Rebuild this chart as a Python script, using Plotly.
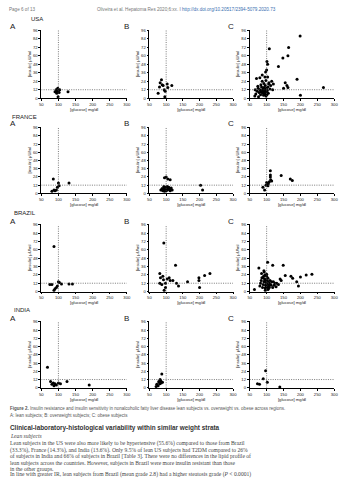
import plotly.graph_objects as go

W, H = 353, 480

# ---------------- data ----------------
countries = ["USA", "FRANCE", "BRAZIL", "INDIA"]
letters = ["A", "B", "C"]
x_ticks = [50, 100, 150, 200, 250, 300]
y_ticks = [0, 12, 24, 36, 48, 60, 72, 84, 96]
glucose_cut = 100
insulin_cut = 12

usa_a_glucose = [90, 93, 95, 97, 98, 100, 102, 104, 99, 128]
usa_a_insulin = [9, 12, 7, 10, 14, 11, 8, 12, 2, 9]
usa_b_glucose = [82, 86, 88, 80, 91, 94, 76, 103, 105, 96, 117, 97]
usa_b_insulin = [22, 26, 19, 16, 18, 12, 7, 20, 15, 2, 18, 10]
usa_c_glucose = [199, 108, 165, 163, 148, 135, 103, 100, 97, 101, 190, 95, 70, 80, 87, 155,
                 160, 163, 150, 120, 115, 107, 112, 118, 268, 200, 65, 68, 72, 75, 78, 80,
                 82, 84, 85, 86, 88, 89, 90, 91, 92, 93, 94, 95, 96, 97, 98, 99, 100, 102,
                 104, 105, 106, 110, 76, 83, 87, 92, 98, 103, 66, 74, 90, 101]
usa_c_insulin = [88, 70, 72, 60, 57, 45, 48, 40, 37, 52, 27, 30, 28, 29, 33, 22,
                 18, 15, 14, 20, 24, 22, 18, 12, 15, 4, 3, 6, 10, 14, 8, 12,
                 5, 9, 16, 11, 7, 13, 10, 4, 15, 8, 12, 6, 18, 10, 3, 14, 9, 11,
                 16, 7, 20, 13, 2, 19, 24, 21, 25, 30, 12, 17, 8, 5]

france_a_glucose = [85, 100, 131, 81, 87, 94, 97, 102, 90]
france_a_insulin = [21, 15, 15, 3, 5, 5, 9, 11, 4]
france_b_glucose = [95, 105, 112, 100, 203, 209, 84, 88, 90, 92, 94, 95, 96, 97, 98, 99,
                    100, 101, 102, 103, 104, 106, 108, 110, 112, 115, 118, 93]
france_b_insulin = [23, 21, 20, 24, 12, 5, 5, 7, 4, 6, 8, 3, 6, 9, 5, 7,
                    4, 8, 6, 10, 5, 7, 9, 6, 4, 8, 5, 10]
france_c_glucose = [89, 94, 100, 102, 108, 111, 111, 112, 105, 115, 143, 170, 176, 111, 98, 104]
france_c_insulin = [9, 5, 16, 13, 17, 24, 27, 20, 14, 18, 26, 21, 19, 33, 12, 11]

brazil_a_glucose = [87, 81, 87, 94, 90, 100, 103, 109, 131, 141, 75, 97]
brazil_a_insulin = [65, 10, 2, 6, 4, 14, 13, 11, 11, 11, 10, 8]
brazil_b_glucose = [93, 128, 81, 83, 90, 92, 98, 103, 109, 112, 98, 94, 87, 81, 120, 131,
                    137, 164, 198, 198, 200, 215, 231]
brazil_b_insulin = [70, 38, 26, 20, 22, 17, 12, 18, 20, 16, 6, 2, 10, 12, 16, 12,
                    8, 14, 20, 16, 6, 23, 26]
brazil_c_glucose = [103, 118, 149, 77, 92, 200, 217, 234, 172, 177, 189, 194, 155, 143, 130,
                    64, 80, 82, 84, 86, 88, 90, 92, 94, 95, 96, 97, 98, 99, 100, 101, 102,
                    103, 104, 105, 106, 108, 110, 112, 115, 118, 122, 125, 128, 85, 89, 93,
                    96, 100, 104, 108, 91, 95, 99, 102, 107, 113, 120, 135, 140]
brazil_c_insulin = [42, 38, 38, 34, 30, 21, 24, 25, 22, 19, 14, 8, 23, 16, 12,
                    3, 8, 12, 16, 20, 6, 10, 14, 18, 24, 5, 9, 13, 17, 22, 7, 11,
                    15, 19, 4, 8, 12, 16, 10, 14, 6, 9, 12, 7, 26, 20, 28,
                    2, 25, 3, 6, 22, 16, 7, 5, 11, 9, 14, 10, 18]

india_a_glucose = [68, 77, 85, 90, 94, 100, 106, 81, 87, 125, 190]
india_a_insulin = [30, 9, 7, 6, 4, 7, 6, 5, 3, 9, 4]
india_b_glucose = [87, 81, 76, 79, 84, 89, 72, 70, 82, 78, 85]
india_b_insulin = [20, 6, 3, 8, 10, 8, 5, 2, 12, 9, 7]
india_c_glucose = [73, 79, 90, 97, 102, 139]
india_c_insulin = [6, 5, 13, 25, 8, 1]

data = {
    ("USA", "A"): (usa_a_glucose, usa_a_insulin),
    ("USA", "B"): (usa_b_glucose, usa_b_insulin),
    ("USA", "C"): (usa_c_glucose, usa_c_insulin),
    ("FRANCE", "A"): (france_a_glucose, france_a_insulin),
    ("FRANCE", "B"): (france_b_glucose, france_b_insulin),
    ("FRANCE", "C"): (france_c_glucose, france_c_insulin),
    ("BRAZIL", "A"): (brazil_a_glucose, brazil_a_insulin),
    ("BRAZIL", "B"): (brazil_b_glucose, brazil_b_insulin),
    ("BRAZIL", "C"): (brazil_c_glucose, brazil_c_insulin),
    ("INDIA", "A"): (india_a_glucose, india_a_insulin),
    ("INDIA", "B"): (india_b_glucose, india_b_insulin),
    ("INDIA", "C"): (india_c_glucose, india_c_insulin),
}

# ---------------- layout geometry (pixels) ----------------
col_x = {"A": (40, 127), "B": (150, 235), "C": (252, 338)}
row_y = [(28, 97), (126, 193), (224, 292), (322, 389)]
country_label_pos = [(27, 17), (8, 116), (10, 213), (10, 311)]
letter_x = {"A": 6, "B": 122, "C": 228}


def px_x(x):
    return x / W


def px_y(y):
    return 1 - y / H


fig = go.Figure()
layout = dict(
    width=W, height=H, margin=dict(l=0, r=0, t=0, b=0),
    paper_bgcolor="white", plot_bgcolor="white", showlegend=False,
    font=dict(family="Liberation Sans, Arial, sans-serif", color="#222"),
)
shapes = []
annotations = []

axis_font = dict(size=4.2, color="#222")
idx = 0
for r, country in enumerate(countries):
    for letter in letters:
        idx += 1
        xa = "x" if idx == 1 else f"x{idx}"
        ya = "y" if idx == 1 else f"y{idx}"
        g, ins = data[(country, letter)]
        fig.add_trace(go.Scatter(
            x=g, y=ins, mode="markers", xaxis=xa, yaxis=ya,
            marker=dict(color="black", size=3.0, symbol="circle"),
            cliponaxis=False, hoverinfo="skip"))
        x0, x1 = col_x[letter]
        y0, y1 = row_y[r]
        common = dict(showgrid=False, zeroline=False, showline=True, linecolor="black",
                      linewidth=0.7, ticks="outside", ticklen=2, tickwidth=0.6,
                      tickcolor="black", tickfont=axis_font)
        layout["xaxis" if idx == 1 else f"xaxis{idx}"] = dict(
            common, domain=[px_x(x0), px_x(x1)], range=[50, 300], tickvals=x_ticks,
            anchor=ya,
            title=dict(text="[glucose] mg/dl", font=dict(size=4.2), standoff=1))
        layout["yaxis" if idx == 1 else f"yaxis{idx}"] = dict(
            common, domain=[px_y(y1), px_y(y0)], range=[0, 97], tickvals=y_ticks,
            anchor=xa,
            title=dict(text="[insulin] μU/ml", font=dict(size=4.2), standoff=1))
        dotted = dict(color="#444", width=0.7, dash="1px,1.3px")
        shapes.append(dict(type="line", xref=xa, yref=ya, x0=glucose_cut, x1=glucose_cut,
                           y0=0, y1=96, line=dotted))
        shapes.append(dict(type="line", xref=xa, yref=ya, x0=50, x1=300,
                           y0=insulin_cut, y1=insulin_cut, line=dotted))
        annotations.append(dict(text=letter, x=px_x(letter_x[letter]), y=px_y(y0 - 3),
                                xref="paper", yref="paper", xanchor="left", yanchor="middle",
                                showarrow=False, font=dict(size=8, color="#222")))
    cx, cy = country_label_pos[r]
    annotations.append(dict(text=country, x=px_x(cx), y=px_y(cy), xref="paper", yref="paper",
                            xanchor="left", yanchor="middle", showarrow=False,
                            font=dict(size=6, color="#222")))


def text(t, x, y, size, color="#444", family=None, anchor="left"):
    d = dict(text=t, x=px_x(x), y=px_y(y), xref="paper", yref="paper", xanchor=anchor,
             yanchor="middle", showarrow=False, align="left",
             font=dict(size=size, color=color))
    if family:
        d["font"]["family"] = family
    annotations.append(d)


text("Page 6 of 13", 5, 8, 4.6, "#777")
text("Oliveira et al. Hepatoma Res 2020;6:xx. I "
     "<span style='color:#3a6fb0'>http://dx.doi.org/10.20517/2394-5079.2020.73</span>",
     95, 8, 4.6, "#777")

text("<b>Figure 2.</b> Insulin resistance and insulin sensitivity in nonalcoholic fatty liver disease lean subjects vs. overweight vs. obese across regions.",
     6, 410, 4.5, "#555")
text("A: lean subjects; B: overweight subjects; C: obese subjects", 6, 416.5, 4.5, "#555")
text("<b>Clinical-laboratory-histological variability within similar weight strata</b>",
     6, 429.5, 6.4, "#333")
text("<i>Lean subjects</i>", 6, 438, 5.6, "#444", "Liberation Serif, serif")
para = [
    "Lean subjects in the US were also more likely to be hypertensive (55.6%) compared to those from Brazil",
    "(33.3%), France (14.3%), and India (13.6%). Only 9.5% of lean US subjects had T2DM compared to 26%",
    "of subjects in India and 66% of subjects in Brazil [Table 3]. There were no differences in the lipid profile of",
    "lean subjects across the countries. However, subjects in Brazil were more insulin resistant than those",
    "in the other groups.",
]
for i, line in enumerate(para):
    text(line, 6, 445.5 + i * 6.3, 5.6, "#444", "Liberation Serif, serif")
text("In line with greater IR, lean subjects from Brazil (mean grade 2.8) had a higher steatosis grade (<i>P</i> &lt; 0.0001)",
     6, 476.5, 5.6, "#444", "Liberation Serif, serif")

layout["shapes"] = shapes
layout["annotations"] = annotations
fig.update_layout(**layout)
fig.write_html("out.html")
